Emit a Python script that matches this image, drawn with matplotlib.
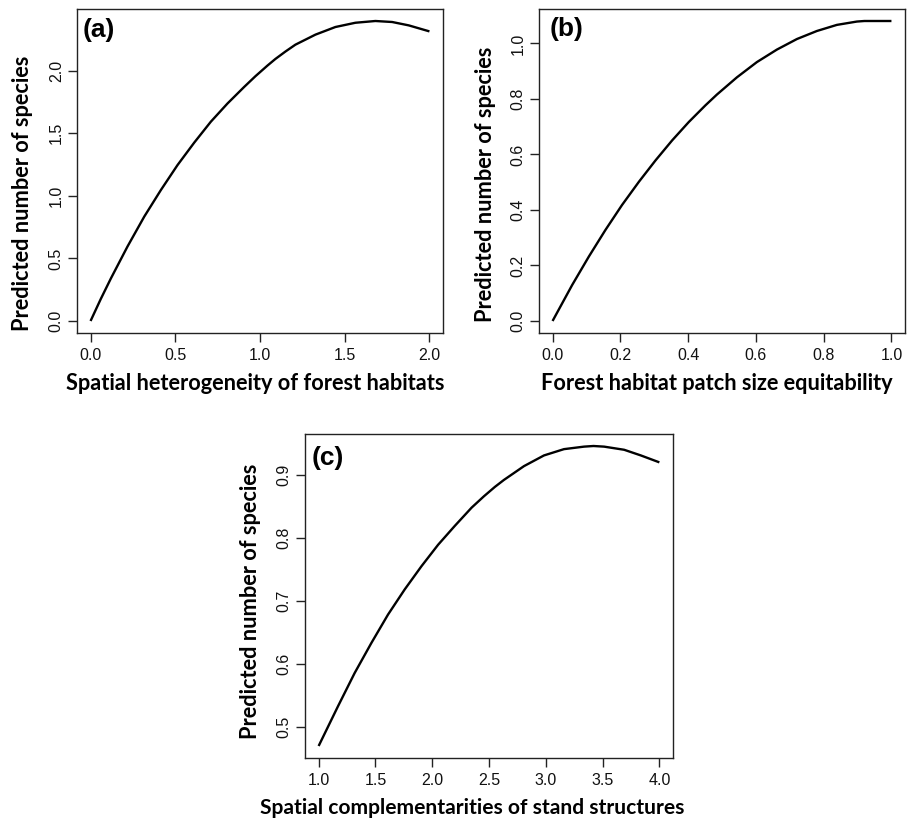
import matplotlib
matplotlib.use("Agg")
import matplotlib.pyplot as plt
import numpy as np

# values
het_x = [0.0, 0.06, 0.12, 0.218, 0.317, 0.415, 0.513, 0.612, 0.71, 0.808, 0.907,
         0.973, 1.044, 1.091, 1.15, 1.209, 1.327, 1.445, 1.563, 1.681, 1.78, 1.878, 2.0]
het_y = [0.0, 0.175, 0.34, 0.595, 0.834, 1.046, 1.245, 1.425, 1.592, 1.737, 1.87,
         1.955, 2.04, 2.093, 2.152, 2.207, 2.287, 2.348, 2.382, 2.396, 2.388, 2.361, 2.313]

equ_x = [0.0, 0.058, 0.107, 0.156, 0.205, 0.255, 0.304, 0.353, 0.402, 0.451, 0.485,
         0.544, 0.603, 0.662, 0.721, 0.78, 0.839, 0.898, 0.92, 1.0]
equ_y = [0.0, 0.13, 0.232, 0.328, 0.418, 0.502, 0.579, 0.651, 0.717, 0.777, 0.816,
         0.878, 0.933, 0.978, 1.016, 1.045, 1.067, 1.079, 1.081, 1.081]

comp_x = [1.0, 1.17, 1.317, 1.465, 1.611, 1.758, 1.906, 2.052, 2.199, 2.347, 2.455,
          2.552, 2.631, 2.808, 2.984, 3.16, 3.337, 3.42, 3.513, 3.69, 3.837, 4.0]
comp_y = [0.469, 0.532, 0.585, 0.633, 0.678, 0.718, 0.755, 0.789, 0.819, 0.848, 0.866,
          0.881, 0.892, 0.914, 0.931, 0.941, 0.945, 0.946, 0.945, 0.94, 0.931, 0.92]

xticks_a = [0.0, 0.5, 1.0, 1.5, 2.0]
yticks_a = [0.0, 0.5, 1.0, 1.5, 2.0]
xticks_b = [0.0, 0.2, 0.4, 0.6, 0.8, 1.0]
yticks_b = [0.0, 0.2, 0.4, 0.6, 0.8, 1.0]
xticks_c = [1.0, 1.5, 2.0, 2.5, 3.0, 3.5, 4.0]
yticks_c = [0.5, 0.6, 0.7, 0.8, 0.9]

ylab = "Predicted number of species"
LABEL_FONT = dict(family="Lato", weight="bold", size=15.7)

fig = plt.figure(figsize=(9.12, 8.21), dpi=100)

W, H = 912.0, 821.0


def make_axes(left, top, right, bottom):
    return fig.add_axes([left / W, 1 - bottom / H, (right - left) / W, (bottom - top) / H])


def style(ax, x, y, xt, yt, xlabel, tag, tag_pos, xlab_x, ylab_y, xlab_size=15.7):
    ax.plot(x, y, color="black", lw=1.7, solid_capstyle="butt")
    ax.margins(x=0.04, y=0.04)
    ax.set_xticks(xt)
    ax.set_yticks(yt)
    ax.set_xticklabels(["%.1f" % v for v in xt])
    ax.set_yticklabels(["%.1f" % v for v in yt], rotation=90, va="center")
    for s in ax.spines.values():
        s.set_linewidth(1.0)
        s.set_color("#222222")
    ax.tick_params(axis="both", length=6.5, width=1.0, color="#222222",
                   labelsize=11.5, labelcolor="#111111")
    ax.tick_params(axis="x", pad=4.5)
    ax.tick_params(axis="y", pad=3)
    for lab in ax.get_xticklabels() + ax.get_yticklabels():
        lab.set_family("Liberation Sans")

    ax.set_xlabel(xlabel, family="Lato", weight="bold", size=xlab_size)
    ax.xaxis.label.set_va("center")
    ax.xaxis.set_label_coords(xlab_x, -50 / 324.0)
    ax.set_ylabel(ylab, **LABEL_FONT)
    ax.yaxis.label.set_va("center")
    ax.yaxis.set_label_coords(-54 / 366.0, ylab_y)

    ax.text(tag_pos[0], tag_pos[1], tag, transform=ax.transAxes,
            family="Liberation Sans", weight="bold", fontsize=19,
            ha="left", va="center")


ax_a = make_axes(77, 9, 443, 333)
style(ax_a, het_x, het_y, xticks_a, yticks_a,
      "Spatial heterogeneity of forest habitats", "(a)", (0.016, 0.935), 0.486, 0.432)

ax_b = make_axes(539, 9, 905, 333)
style(ax_b, equ_x, equ_y, xticks_b, yticks_b,
      "Forest habitat patch size equitability", "(b)", (0.028, 0.937), 0.485, 0.458)

ax_c = make_axes(305, 434, 673, 758)
style(ax_c, comp_x, comp_y, xticks_c, yticks_c,
      "Spatial complementarities of stand structures", "(c)", (0.018, 0.925), 0.455, 0.483,
      xlab_size=15.1)

fig.savefig("out.png", dpi=100)
